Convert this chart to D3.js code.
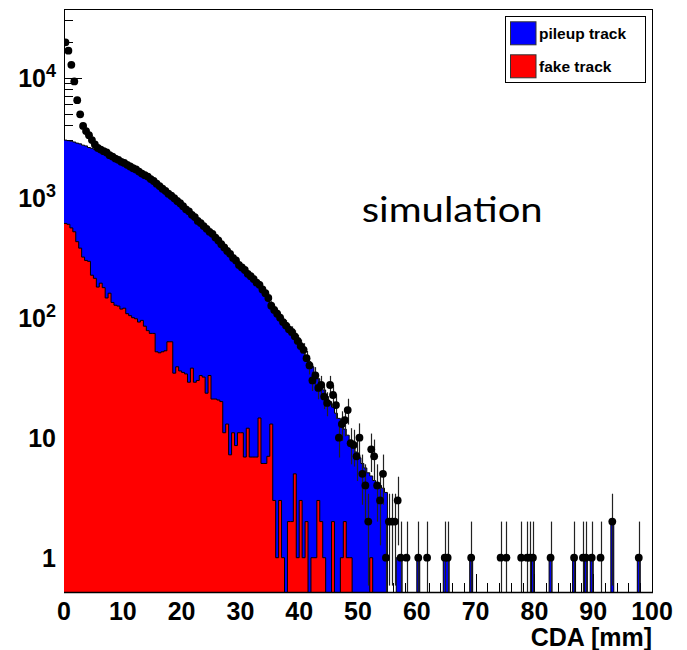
<!DOCTYPE html>
<html><head><meta charset="utf-8">
<script src="https://cdn.jsdelivr.net/npm/d3@7"></script>
<style>body{margin:0;background:#fff}</style></head>
<body>
<svg id="c" width="687" height="650"></svg>
<script>
// ---- data (bins of 0.5 mm, 0..100 mm) ----
const binWidth = 0.5;
const nBins = 200;
// pileup track, drawn stacked on top of fake track (stack total), bins 0..109
const pileupStack = [
 3020,2990,2960,2910,2850,2810,2740,2700,2620,2580,
 2520,2460,2400,2330,2260,2180,2110,2050,1980,1920,
 1860,1800,1750,1690,1640,1580,1520,1470,1420,1360,
 1300,1240,1180,1120,1070,1020,970,925,880,840,
 800,765,725,690,655,620,590,560,530,500,
 480,452,420,398,372,345,326,302,285,266,
 250,236,222,211,200,187,178,165,151,138,
 122,111,102,95,88,82,77,72,66,61,
 56,52,47,43,39,35,31,28,25,22,
 20,18,16,14.5,13,11.8,10.5,9.5,8.5,7.6,
 6.8,6.1,5.6,5.1,4.8,4.4,4.2,4.0,3.8,3.5
];
const pileupTailBins   = [113,114,120,129,130,138,159,165,173,177,179,186,195];
const pileupTailCounts = [1,1,1,1,1,1,1,1,1,1,1,2,1];
// fake track, bins 0..109
const fake = [
 610,600,560,520,430,380,320,300,295,226,
 213,180,194,178,146,160,134,127,125,118,
 120,108,104,100,98,92,95,85,78,74,
 74,52,51,52,53,63,63,34.5,39,36,
 35,34,29,38,29,30,33,32,23.5,33,
 21,21,20.6,20,11,13,7.2,11,8.6,11,
 11,6.9,12,6.9,6.9,6.9,14.6,6.1,6.1,7,
 13,3,1,3,1,0,2,2,5,1,
 3,1,2,0,1,1,3,2,1,0,
 0,2,0,0,1,2,1,1,0,0,
 0,0,0,0,1,0,0,0,0,0
];
// simulated data points, bins 0..109
const dataMain = [
 19700,16800,12800,9300,6500,4950,3960,3590,3320,3020,
 2780,2600,2520,2440,2380,2260,2200,2120,2070,1990,
 1950,1880,1820,1760,1720,1650,1590,1540,1500,1430,
 1380,1310,1250,1190,1140,1080,1040,990,940,900,
 850,800,770,720,690,640,615,580,550,520,
 500,465,440,410,385,360,340,315,300,275,
 262,250,232,222,210,196,188,172,160,146,
 126,116,108,100,92,86,80,76,70,64,
 58,54,46,40,30,33,26,27.5,22,19.5,
 27.5,22.7,18.7,10,13,14,17,9,8.7,7,
 10,5,4,2,8,7,4,3,5,1
];
const dataTailBins   = [110,111,112,113,114,116,120,123,129,130,138,148,150,155,157,158,159,165,173,176,177,179,182,186,195];
const dataTailCounts = [2,2,2,3,1,1,1,1,1,1,1,1,1,1,1,1,1,1,1,1,1,1,1,2,1];

const xTicks = [0,10,20,30,40,50,60,70,80,90,100];
const yDecades = [1,10,100,1000,10000];
const yLabels = [["1",""],["10",""],["10","2"],["10","3"],["10","4"]];
const legendLabels = ["pileup track","fake track"];
const legendColors = ["#0000ff","#ff0000"];
const xTitle = "CDA [mm]";
const annotation = "simulation";

// ---- build full bin arrays ----
function full(main, tb, tc){
  const a = new Array(nBins).fill(0);
  main.forEach((v,i)=>a[i]=v);
  if(tb) tb.forEach((b,i)=>a[b]=tc[i]);
  return a;
}
const stackVals = full(pileupStack, pileupTailBins, pileupTailCounts);
const fakeVals = full(fake);
const dataVals = full(dataMain, dataTailBins, dataTailCounts);

// ---- scales ----
const L=64, R=652, T=9, B=592;
const x = d3.scaleLinear().domain([0,100]).range([L,R]);
const y = d3.scaleLog().domain([0.518,37360]).range([B,T]);
const yv = v => v>0 ? Math.max(T-5, Math.min(B+2, y(v))) : B+2;

const svg = d3.select("#c");
svg.append("rect").attr("width",687).attr("height",650).attr("fill","#fff");
svg.append("defs").append("clipPath").attr("id","pc")
  .append("rect").attr("x",L).attr("y",T).attr("width",R-L).attr("height",B-T);

// ---- ticks (under the histograms) ----
const g = svg.append("g");
g.append("line").attr("x1",L+0.5).attr("x2",L+0.5).attr("y1",T).attr("y2",B).attr("stroke","#000");
const yTickVals = [];
for (let e=-1;e<=4;e++) for (let m=1;m<=9;m++){ const v=m*Math.pow(10,e); if(v>=0.518&&v<=37360) yTickVals.push(v); }
g.selectAll(".yt").data(yTickVals).enter().append("line")
  .attr("x1",L).attr("x2",d=>L+(yDecades.includes(d)?18:9))
  .attr("y1",d=>Math.round(y(d))+0.5).attr("y2",d=>Math.round(y(d))+0.5)
  .attr("stroke","#000");
const xTickVals = d3.range(0,101,2);
g.selectAll(".xt").data(xTickVals).enter().append("line")
  .attr("x1",d=>Math.round(x(d))+0.5).attr("x2",d=>Math.round(x(d))+0.5)
  .attr("y1",B).attr("y2",d=>B-(d%10===0?18:9))
  .attr("stroke","#000");

// ---- histograms ----
function stepPts(vals){
  const pts=[];
  vals.forEach((v,i)=>{ pts.push([i*binWidth,v]); pts.push([(i+1)*binWidth,v]); });
  return pts;
}
const hg = svg.append("g").attr("clip-path","url(#pc)");
function drawHist(vals,color){
  const pts = stepPts(vals);
  const area = d3.area().x(d=>x(d[0])).y0(B+2).y1(d=>yv(d[1]));
  hg.append("path").attr("d",area(pts)).attr("fill",color).attr("stroke","none");
  const line = d3.line().x(d=>x(d[0])).y(d=>yv(d[1]));
  hg.append("path").attr("d",line(pts)).attr("fill","none").attr("stroke","#000").attr("stroke-width",1);
}
drawHist(stackVals,legendColors[0]);
drawHist(fakeVals,legendColors[1]);

// ---- data points with Poisson error bars ----
const dg = svg.append("g").attr("clip-path","url(#pc)");
const pts = dataVals.map((v,i)=>({c:(i+0.5)*binWidth,v})).filter(d=>d.v>0);
dg.selectAll(".eb").data(pts).enter().append("line")
  .attr("x1",d=>Math.round(x(d.c))+0.5).attr("x2",d=>Math.round(x(d.c))+0.5)
  .attr("y1",d=>yv(d.v+Math.sqrt(d.v)))
  .attr("y2",d=>{const lo=d.v-Math.sqrt(d.v); return lo>0? yv(lo): B+2;})
  .attr("stroke","#222").attr("stroke-width",1.2);
dg.selectAll(".mk").data(pts).enter().append("circle")
  .attr("cx",d=>x(d.c)).attr("cy",d=>y(d.v)).attr("r",3.9).attr("fill","#000");

// ---- frame ----
svg.append("line").attr("x1",L).attr("x2",R+0.5).attr("y1",T+0.5).attr("y2",T+0.5).attr("stroke","#000");
svg.append("line").attr("x1",R+0.5).attr("x2",R+0.5).attr("y1",T).attr("y2",B).attr("stroke","#000");
svg.append("line").attr("x1",L).attr("x2",R+1).attr("y1",B+0.5).attr("y2",B+0.5).attr("stroke","#000").attr("stroke-width",1.5);

// ---- labels ----
const font = "'Liberation Sans', Arial, sans-serif";
svg.selectAll(".xl").data(xTicks).enter().append("text")
  .attr("x",d=>x(d)).attr("y",620).attr("text-anchor","middle")
  .attr("font-family",font).attr("font-weight","bold").attr("font-size",25)
  .text(d=>d);
yDecades.forEach((v,i)=>{
  const t = svg.append("text").attr("x",56).attr("y",y(v)).attr("dy","0.36em")
    .attr("text-anchor","end").attr("font-family",font).attr("font-weight","bold").attr("font-size",25);
  t.append("tspan").text(yLabels[i][0]);
  if (yLabels[i][1]) t.append("tspan").attr("font-size",18).attr("dy","-0.55em").text(yLabels[i][1]);
});
svg.append("text").attr("x",652).attr("y",646).attr("text-anchor","end")
  .attr("font-family",font).attr("font-weight","bold").attr("font-size",25).text(xTitle);

svg.append("text").attr("x",361.7).attr("y",221.7)
  .attr("font-family","Lato, 'Open Sans', sans-serif").attr("font-size",34)
  .attr("textLength",181).attr("lengthAdjust","spacingAndGlyphs").text(annotation);

// ---- legend ----
const lg = svg.append("g");
lg.append("rect").attr("x",505.5).attr("y",16.5).attr("width",140).attr("height",66)
  .attr("fill","#fff").attr("stroke","#000");
legendLabels.forEach((s,i)=>{
  const cy = 33.3 + i*33;
  lg.append("rect").attr("x",510.5).attr("y",cy-11.5).attr("width",25.5).attr("height",23)
    .attr("fill",legendColors[i]).attr("stroke","#333");
  lg.append("text").attr("x",539).attr("y",cy).attr("dy","0.35em")
    .attr("font-family",font).attr("font-weight","bold").attr("font-size",15.5).text(s);
});
</script>
</body></html>
